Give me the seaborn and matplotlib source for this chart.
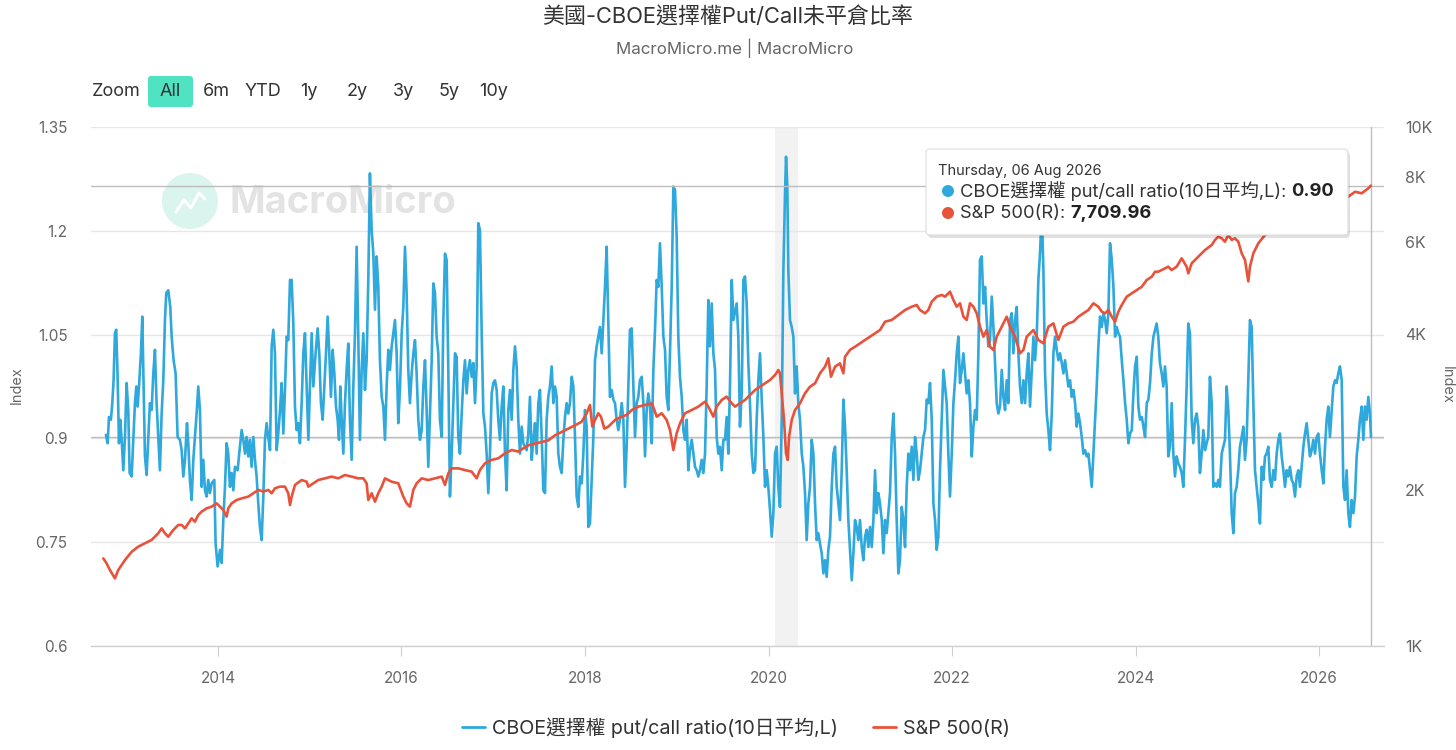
import matplotlib
matplotlib.use("Agg")
import matplotlib.pyplot as plt
import matplotlib.transforms as mtransforms
from matplotlib.patches import FancyBboxPatch, Circle
from matplotlib.lines import Line2D
from matplotlib.ticker import NullLocator
import pandas as pd
import seaborn as sns

# ---------------- data ----------------
title = "美國-CBOE選擇權Put/Call未平倉比率"
subtitle = "MacroMicro.me | MacroMicro"
pcr_name = "CBOE選擇權 put/call ratio(10日平均,L)"
spx_name = "S&P 500(R)"
tooltip_date = "Thursday, 06 Aug 2026"
range_buttons = ["Zoom", "All", "6m", "YTD", "1y", "2y", "3y", "5y", "10y"]

left_ticks = [0.6, 0.75, 0.9, 1.05, 1.2, 1.35]
left_tick_labels = ["0.6", "0.75", "0.9", "1.05", "1.2", "1.35"]
right_ticks = [1000, 2000, 4000, 6000, 8000, 10000]
right_tick_labels = ["1K", "2K", "4K", "6K", "8K", "10K"]
x_ticks = [2014, 2016, 2018, 2020, 2022, 2024, 2026]
x_tick_labels = ["2014", "2016", "2018", "2020", "2022", "2024", "2026"]
recession_start = [2020.07]
recession_end = [2020.32]

pcr_dates = [
    2012.779, 2012.797, 2012.812, 2012.833, 2012.848, 2012.862, 2012.877, 2012.891, 2012.906, 2012.921,
    2012.935, 2012.950, 2012.968, 2012.986, 2013.004, 2013.022, 2013.037, 2013.059, 2013.077, 2013.095,
    2013.110, 2013.124, 2013.139, 2013.160, 2013.175, 2013.189, 2013.204, 2013.222, 2013.240, 2013.258,
    2013.277, 2013.295, 2013.313, 2013.331, 2013.349, 2013.367, 2013.386, 2013.404, 2013.422, 2013.436,
    2013.458, 2013.480, 2013.495, 2013.516, 2013.538, 2013.560, 2013.585, 2013.604, 2013.622, 2013.640,
    2013.662, 2013.676, 2013.694, 2013.713, 2013.731, 2013.749, 2013.767, 2013.785, 2013.803, 2013.822,
    2013.840, 2013.858, 2013.876, 2013.894, 2013.912, 2013.931, 2013.960, 2013.974, 2013.996, 2014.022,
    2014.040, 2014.058, 2014.076, 2014.094, 2014.112, 2014.130, 2014.149, 2014.167, 2014.185, 2014.214,
    2014.239, 2014.258, 2014.276, 2014.294, 2014.312, 2014.330, 2014.348, 2014.366, 2014.385, 2014.403,
    2014.421, 2014.439, 2014.457, 2014.476, 2014.494, 2014.512, 2014.530, 2014.548, 2014.567, 2014.585,
    2014.603, 2014.621, 2014.639, 2014.657, 2014.676, 2014.694, 2014.712, 2014.730, 2014.748, 2014.766,
    2014.785, 2014.803, 2014.821, 2014.839, 2014.857, 2014.875, 2014.893, 2014.912, 2014.930, 2014.948,
    2014.966, 2014.985, 2015.002, 2015.021, 2015.039,
    2015.064, 2015.086, 2015.104, 2015.122, 2015.141, 2015.159, 2015.177, 2015.195, 2015.213, 2015.231,
    2015.250, 2015.268, 2015.286, 2015.304, 2015.319, 2015.333, 2015.348, 2015.366, 2015.384, 2015.402,
    2015.420, 2015.438, 2015.457, 2015.475, 2015.493, 2015.511, 2015.529, 2015.547, 2015.566, 2015.584,
    2015.602, 2015.620, 2015.638, 2015.656, 2015.675, 2015.693, 2015.711, 2015.729, 2015.747, 2015.765,
    2015.784, 2015.802, 2015.820, 2015.838, 2015.856, 2015.874, 2015.893, 2015.911, 2015.929, 2015.947,
    2015.965, 2015.983, 2016.002, 2016.020, 2016.038, 2016.056, 2016.074, 2016.092, 2016.111, 2016.129,
    2016.147, 2016.165, 2016.183, 2016.201, 2016.220, 2016.238, 2016.256, 2016.274, 2016.292, 2016.310,
    2016.329, 2016.347, 2016.365, 2016.383, 2016.401, 2016.419, 2016.438, 2016.456, 2016.474, 2016.492,
    2016.510, 2016.528, 2016.547, 2016.565, 2016.583, 2016.601, 2016.619, 2016.637, 2016.656, 2016.674,
    2016.692, 2016.710, 2016.728, 2016.746, 2016.765, 2016.783, 2016.801, 2016.819, 2016.837, 2016.855,
    2016.874, 2016.892, 2016.910, 2016.928, 2016.946, 2016.964, 2016.983, 2017.001, 2017.019, 2017.037,
    2017.055, 2017.073, 2017.092, 2017.110, 2017.128, 2017.146, 2017.164, 2017.182, 2017.201, 2017.219,
    2017.237, 2017.255, 2017.273, 2017.291, 2017.310, 2017.328,
    2017.364, 2017.382, 2017.400, 2017.419, 2017.437, 2017.455, 2017.473, 2017.491, 2017.509, 2017.528,
    2017.546, 2017.564, 2017.582, 2017.600, 2017.618, 2017.637, 2017.655, 2017.673, 2017.691, 2017.709,
    2017.727, 2017.746, 2017.764, 2017.782, 2017.800, 2017.818, 2017.836, 2017.855, 2017.873, 2017.891,
    2017.909, 2017.927, 2017.945, 2017.964, 2017.982, 2018.000, 2018.018, 2018.036, 2018.054, 2018.073,
    2018.091, 2018.109, 2018.127, 2018.145, 2018.163, 2018.182, 2018.200, 2018.218, 2018.236, 2018.254,
    2018.272, 2018.291, 2018.309, 2018.327, 2018.345, 2018.363, 2018.381, 2018.400, 2018.418, 2018.436,
    2018.454, 2018.472, 2018.490, 2018.509, 2018.527, 2018.545, 2018.563, 2018.581, 2018.599, 2018.618,
    2018.636, 2018.654, 2018.672, 2018.690, 2018.708, 2018.727, 2018.745, 2018.763, 2018.781, 2018.799,
    2018.817, 2018.836, 2018.854, 2018.872, 2018.890, 2018.908, 2018.926, 2018.945, 2018.963, 2018.981,
    2018.999, 2019.017, 2019.035, 2019.054, 2019.072, 2019.090, 2019.108, 2019.126, 2019.144, 2019.163,
    2019.181, 2019.199, 2019.217, 2019.235, 2019.253, 2019.272, 2019.290, 2019.308, 2019.326, 2019.344,
    2019.362, 2019.381, 2019.399, 2019.417, 2019.435, 2019.453, 2019.471, 2019.490, 2019.508, 2019.526,
    2019.544, 2019.562, 2019.580, 2019.599, 2019.617,
    2019.653, 2019.671, 2019.689, 2019.708, 2019.726, 2019.744, 2019.762, 2019.780, 2019.798, 2019.817,
    2019.835, 2019.853, 2019.871, 2019.889, 2019.907, 2019.926, 2019.944, 2019.962, 2019.980, 2019.998,
    2020.016, 2020.035, 2020.053, 2020.071, 2020.089, 2020.107, 2020.125, 2020.144, 2020.162, 2020.180,
    2020.191, 2020.205,
    2020.216, 2020.234, 2020.253, 2020.271, 2020.289, 2020.307, 2020.325, 2020.343, 2020.362, 2020.380,
    2020.398, 2020.416, 2020.434, 2020.452, 2020.471, 2020.489, 2020.507, 2020.525, 2020.543, 2020.561,
    2020.580, 2020.598, 2020.616, 2020.634, 2020.652, 2020.670, 2020.689, 2020.707, 2020.725, 2020.743,
    2020.761, 2020.779, 2020.798, 2020.816, 2020.834, 2020.852, 2020.870, 2020.888, 2020.907, 2020.925,
    2020.943, 2020.961, 2020.979, 2020.997, 2021.016, 2021.034, 2021.052, 2021.070, 2021.088, 2021.106,
    2021.125, 2021.143, 2021.161, 2021.179, 2021.197, 2021.215, 2021.234, 2021.252, 2021.270, 2021.288,
    2021.306, 2021.324, 2021.343, 2021.361, 2021.379, 2021.397, 2021.415, 2021.433, 2021.452, 2021.470,
    2021.488, 2021.506, 2021.524, 2021.542, 2021.561, 2021.579, 2021.597, 2021.615, 2021.633, 2021.651,
    2021.670, 2021.688, 2021.706, 2021.724, 2021.742, 2021.760, 2021.779, 2021.797, 2021.815, 2021.833,
    2021.851, 2021.869, 2021.888, 2021.906,
    2021.942, 2021.960, 2021.978, 2021.997, 2022.015, 2022.033, 2022.051, 2022.069, 2022.087, 2022.106,
    2022.124, 2022.142, 2022.160, 2022.178, 2022.196, 2022.215, 2022.233, 2022.251, 2022.269, 2022.287,
    2022.305, 2022.324, 2022.342, 2022.360, 2022.378, 2022.396, 2022.414, 2022.433, 2022.451, 2022.469,
    2022.487, 2022.505, 2022.523, 2022.542, 2022.560, 2022.578, 2022.596, 2022.614, 2022.632, 2022.651,
    2022.669, 2022.687, 2022.705, 2022.723, 2022.741, 2022.760, 2022.778, 2022.796, 2022.814, 2022.832,
    2022.850, 2022.869, 2022.887, 2022.905, 2022.923, 2022.941, 2022.959, 2022.978, 2022.996, 2023.014,
    2023.032, 2023.050, 2023.068, 2023.087, 2023.105, 2023.123, 2023.141, 2023.159, 2023.177, 2023.196,
    2023.214, 2023.232, 2023.250, 2023.268, 2023.286, 2023.305, 2023.323, 2023.341, 2023.359, 2023.377,
    2023.395, 2023.414, 2023.432, 2023.450, 2023.468, 2023.486, 2023.504, 2023.523, 2023.541, 2023.559,
    2023.577, 2023.595, 2023.613, 2023.632, 2023.650, 2023.668, 2023.686, 2023.704, 2023.722, 2023.741,
    2023.759, 2023.777, 2023.795, 2023.813, 2023.831, 2023.850, 2023.868, 2023.886, 2023.904, 2023.922,
    2023.940, 2023.959, 2023.977, 2023.995, 2024.013, 2024.031, 2024.049, 2024.068, 2024.086, 2024.104,
    2024.122, 2024.140, 2024.158, 2024.177, 2024.195,
    2024.230, 2024.248, 2024.266, 2024.285, 2024.303, 2024.321, 2024.339, 2024.357, 2024.375, 2024.394,
    2024.412, 2024.430, 2024.448, 2024.466, 2024.484, 2024.503, 2024.521, 2024.539, 2024.557, 2024.575,
    2024.593, 2024.612, 2024.630, 2024.648, 2024.666, 2024.684, 2024.702, 2024.721, 2024.739, 2024.757,
    2024.775, 2024.793, 2024.811, 2024.830, 2024.848, 2024.866, 2024.884, 2024.902, 2024.920, 2024.939,
    2024.957, 2024.975, 2024.993, 2025.011, 2025.029, 2025.048, 2025.066, 2025.084, 2025.102, 2025.120,
    2025.138, 2025.157, 2025.175, 2025.193, 2025.211, 2025.229, 2025.247, 2025.266, 2025.284, 2025.302,
    2025.320, 2025.338, 2025.356, 2025.375, 2025.393, 2025.411, 2025.429, 2025.447, 2025.465, 2025.484,
    2025.502, 2025.520, 2025.538, 2025.556, 2025.574, 2025.593, 2025.611, 2025.629, 2025.647, 2025.665,
    2025.683, 2025.702, 2025.720, 2025.738, 2025.756, 2025.774, 2025.792, 2025.811, 2025.829, 2025.847,
    2025.865, 2025.883, 2025.901, 2025.920, 2025.938, 2025.956, 2025.974, 2025.992, 2026.010, 2026.029,
    2026.047, 2026.065, 2026.083, 2026.101, 2026.119, 2026.138, 2026.156, 2026.174, 2026.192, 2026.210,
    2026.228, 2026.247, 2026.265, 2026.283, 2026.301, 2026.319, 2026.337, 2026.355, 2026.374, 2026.392,
    2026.410, 2026.428, 2026.446, 2026.465, 2026.483, 2026.501, 2026.519, 2026.537, 2026.555, 2026.566,
]

pcr_values = [
    0.905, 0.893, 0.931, 0.927, 0.951, 0.984, 1.052, 1.057, 0.989, 0.893,
    0.927, 0.898, 0.854, 0.902, 0.980, 0.941, 0.850, 0.845, 0.898, 0.951,
    0.975, 0.946, 0.975, 1.023, 1.076, 0.975, 0.874, 0.847, 0.898, 0.951,
    0.941, 0.994, 1.028, 0.951, 0.902, 0.854, 0.936, 0.984, 1.071, 1.110,
    1.114, 1.090, 1.047, 1.013, 0.994, 0.902, 0.898, 0.883, 0.845, 0.869,
    0.922, 0.893, 0.840, 0.811, 0.869, 0.902, 0.936, 0.975, 0.941, 0.830,
    0.869, 0.825, 0.816, 0.840, 0.821, 0.835, 0.840, 0.748, 0.715, 0.739,
    0.720, 0.782, 0.830, 0.893, 0.878, 0.830, 0.850, 0.825, 0.859, 0.854,
    0.888, 0.912, 0.898, 0.878, 0.902, 0.874, 0.898, 0.859, 0.902, 0.869,
    0.845, 0.806, 0.772, 0.753, 0.816, 0.898, 0.922, 0.902, 0.883, 1.033,
    1.057, 1.023, 0.883, 0.907, 0.941, 0.980, 0.907, 0.970, 1.047, 1.042,
    1.129, 1.129, 1.066, 0.946, 0.912, 0.922, 0.893, 0.951, 1.023, 1.052,
    0.975, 0.898, 0.975, 1.052, 0.975,
    1.023, 1.059, 1.023, 0.951, 0.927, 0.975, 1.023, 1.076, 1.023, 0.960,
    1.028, 0.994, 0.946, 0.927, 0.898, 0.975, 0.927, 0.878, 0.951, 0.999,
    1.037, 0.927, 0.869, 0.975, 1.052, 1.177, 1.047, 0.898, 0.999, 1.052,
    0.970, 1.013, 1.129, 1.283, 1.201, 1.167, 1.086, 1.163, 1.119, 1.013,
    0.960, 0.946, 0.898, 0.975, 1.028, 0.999, 1.033, 1.052, 1.071, 1.023,
    0.922, 0.970, 1.052, 1.090, 1.177, 1.110, 0.999, 0.951, 0.994, 1.023,
    1.042, 0.994, 0.927, 0.898, 0.912, 0.975, 1.013, 0.941, 0.859, 0.936,
    1.013, 1.124, 1.110, 1.047, 1.023, 0.927, 0.902, 1.071, 1.167, 1.158,
    0.999, 0.816, 0.878, 0.951, 1.023, 1.018, 0.902, 0.878, 0.936, 0.984,
    1.013, 0.965, 0.999, 1.013, 0.989, 1.009, 0.951, 1.004, 1.211, 1.201,
    1.052, 0.936, 0.917, 0.878, 0.821, 0.878, 0.965, 0.980, 0.984, 0.970,
    0.927, 0.898, 0.946, 0.975, 0.878, 0.825, 0.941, 0.970, 0.927, 0.999,
    1.033, 1.004, 0.927, 0.878, 0.917, 0.893,
    0.883, 0.907, 0.960, 0.869, 0.898, 0.922, 0.878, 0.951, 0.970, 0.902,
    0.825, 0.821, 0.927, 0.960, 0.975, 1.004, 0.951, 0.975, 0.960, 0.878,
    0.859, 0.850, 0.898, 0.931, 0.951, 0.936, 0.951, 0.989, 0.975, 0.902,
    0.816, 0.801, 0.845, 0.835, 0.878, 0.941, 0.917, 0.772, 0.777, 0.840,
    0.902, 1.013, 1.033, 1.047, 1.061, 1.023, 1.071, 1.119, 1.177, 1.071,
    0.960, 0.970, 0.956, 0.951, 0.927, 0.912, 0.927, 0.951, 0.927, 0.830,
    0.888, 0.975, 1.057, 1.059, 0.975, 0.902, 0.951, 0.960, 0.984, 0.989,
    0.951, 0.874, 0.941, 0.965, 0.946, 0.893, 0.999, 1.057, 1.129, 1.119,
    1.182, 1.119, 1.047, 1.028, 0.960, 0.941, 1.023, 1.119, 1.264, 1.259,
    1.192, 1.047, 0.989, 0.960, 0.912, 0.898, 0.927, 0.854, 0.883, 0.898,
    0.878, 0.859, 0.854, 0.845, 0.854, 0.869, 0.850, 0.878, 0.975, 1.100,
    1.033, 1.095, 1.023, 0.999, 0.902, 0.878, 0.888, 0.854, 0.898, 0.898,
    0.931, 0.878, 0.975, 1.129, 1.071,
    1.095, 1.047, 0.917, 0.965, 1.129, 1.134, 1.095, 1.009, 0.951, 0.878,
    0.850, 0.854, 0.927, 0.984, 1.023, 0.956, 0.902, 0.830, 0.854, 0.830,
    0.797, 0.758, 0.792, 0.878, 0.888, 0.830, 0.801, 0.927, 1.143, 1.254,
    1.307, 1.264,
    1.143, 1.071, 1.061, 1.047, 0.965, 1.004, 0.951, 0.927, 0.878, 0.859,
    0.821, 0.753, 0.806, 0.830, 0.898, 0.878, 0.806, 0.753, 0.763, 0.748,
    0.734, 0.705, 0.724, 0.700, 0.739, 0.758, 0.830, 0.878, 0.888, 0.830,
    0.806, 0.782, 0.854, 0.956, 0.917, 0.854, 0.782, 0.739, 0.695, 0.734,
    0.782, 0.772, 0.753, 0.782, 0.743, 0.724, 0.758, 0.768, 0.743, 0.772,
    0.743, 0.782, 0.854, 0.792, 0.821, 0.806, 0.782, 0.734, 0.782, 0.763,
    0.792, 0.821, 0.902, 0.936, 0.878, 0.782, 0.705, 0.724, 0.801, 0.782,
    0.743, 0.830, 0.878, 0.854, 0.888, 0.840, 0.902, 0.878, 0.840, 0.854,
    0.878, 0.902, 0.912, 0.956, 0.951, 0.980, 0.927, 0.806, 0.782, 0.739,
    0.758, 0.854, 0.927, 0.999,
    0.951, 0.878, 0.816, 0.878, 0.951, 0.984, 1.023, 1.047, 0.980, 0.999,
    1.023, 0.994, 0.965, 0.984, 0.951, 0.874, 0.917, 0.941, 0.927, 1.023,
    1.158, 1.163, 1.095, 1.119, 1.071, 1.033, 1.042, 1.105, 1.061, 1.009,
    0.951, 0.936, 0.946, 0.999, 0.960, 0.941, 0.984, 0.951, 1.071, 1.081,
    1.023, 1.071, 1.090, 1.023, 0.975, 0.951, 0.984, 0.951, 0.994, 1.023,
    0.946, 0.999, 1.047, 1.013, 1.047, 1.129, 1.167, 1.230, 1.143, 0.994,
    0.936, 0.912, 0.883, 0.936, 1.023, 1.047, 1.028, 1.013, 1.023, 1.009,
    0.994, 1.013, 0.994, 0.975, 0.984, 0.960, 0.970, 0.951, 0.917, 0.936,
    0.922, 0.902, 0.878, 0.883, 0.874, 0.878, 0.854, 0.830, 0.878, 0.927,
    0.975, 1.033, 1.076, 1.061, 1.081, 1.071, 1.052, 1.081, 1.182, 1.158,
    1.119, 1.047, 1.061, 1.052, 1.047, 1.013, 0.984, 0.951, 0.927, 0.893,
    0.907, 0.912, 0.965, 1.004, 1.018, 0.946, 0.927, 0.931, 0.917, 0.902,
    0.951, 0.956, 0.980, 1.023, 1.047,
    1.066, 1.047, 1.009, 0.994, 0.975, 1.004, 0.975, 0.874, 0.888, 0.951,
    0.878, 0.845, 0.874, 0.864, 0.859, 0.850, 0.830, 0.898, 0.975, 1.066,
    1.052, 0.927, 0.893, 0.927, 0.936, 0.917, 0.850, 0.878, 0.912, 0.883,
    0.893, 0.902, 0.989, 0.951, 0.830, 0.835, 0.830, 0.840, 0.830, 0.878,
    0.888, 0.898, 0.975, 0.941, 0.878, 0.792, 0.763, 0.821, 0.830, 0.854,
    0.888, 0.902, 0.917, 0.869, 0.898, 0.984, 1.071, 1.061, 0.951, 0.854,
    0.830, 0.806, 0.777, 0.859, 0.840, 0.874, 0.878, 0.888, 0.840, 0.830,
    0.854, 0.840, 0.878, 0.898, 0.907, 0.874, 0.854, 0.830, 0.854, 0.845,
    0.859, 0.840, 0.835, 0.816, 0.845, 0.854, 0.830, 0.859, 0.888, 0.907,
    0.922, 0.898, 0.874, 0.883, 0.898, 0.878, 0.902, 0.907, 0.878, 0.854,
    0.835, 0.888, 0.927, 0.946, 0.902, 0.941, 0.975, 0.984, 0.980, 0.994,
    1.004, 0.984, 0.830, 0.811, 0.854, 0.792, 0.772, 0.811, 0.792, 0.816,
    0.874, 0.898, 0.927, 0.946, 0.898, 0.946, 0.927, 0.960, 0.936, 0.902,
]

spx_dates = [
    2012.750, 2012.786, 2012.822, 2012.877, 2012.913, 2012.986, 2013.059, 2013.131, 2013.204, 2013.277,
    2013.349, 2013.386, 2013.422, 2013.458, 2013.513, 2013.567, 2013.604, 2013.640, 2013.676, 2013.713,
    2013.749, 2013.785, 2013.822, 2013.876, 2013.931, 2013.985, 2014.022, 2014.058, 2014.094, 2014.112,
    2014.149, 2014.203, 2014.258, 2014.330, 2014.385, 2014.439, 2014.494, 2014.548, 2014.585, 2014.621,
    2014.676, 2014.730, 2014.766, 2014.785, 2014.803, 2014.839, 2014.912, 2014.966, 2014.985, 2015.039,
    2015.093, 2015.166, 2015.239, 2015.311, 2015.384, 2015.457, 2015.529, 2015.584, 2015.620, 2015.638,
    2015.675, 2015.711, 2015.747, 2015.784, 2015.820, 2015.856, 2015.893, 2015.965, 2016.020, 2016.056,
    2016.092, 2016.129, 2016.165, 2016.220, 2016.292, 2016.365, 2016.438, 2016.474, 2016.510, 2016.547,
    2016.619, 2016.692, 2016.765, 2016.819, 2016.855, 2016.910, 2016.983, 2017.055, 2017.128, 2017.201,
    2017.273, 2017.328,
    2017.382, 2017.455, 2017.528, 2017.600, 2017.673, 2017.746, 2017.818, 2017.891, 2017.964, 2018.018,
    2018.054, 2018.080, 2018.109, 2018.145, 2018.174, 2018.211, 2018.254, 2018.291, 2018.327, 2018.363,
    2018.400, 2018.454, 2018.509, 2018.581, 2018.654, 2018.727, 2018.756, 2018.781, 2018.836, 2018.890,
    2018.926, 2018.963, 2018.999, 2019.035, 2019.090, 2019.163, 2019.235, 2019.308, 2019.344, 2019.399,
    2019.435, 2019.490, 2019.544, 2019.599, 2019.635,
    2019.689, 2019.744, 2019.798, 2019.853, 2019.907, 2019.962, 2020.016, 2020.071, 2020.107, 2020.125,
    2020.144, 2020.169, 2020.191, 2020.209, 2020.224, 2020.253, 2020.289, 2020.343, 2020.398, 2020.452,
    2020.507, 2020.561, 2020.616, 2020.652, 2020.681, 2020.725, 2020.779, 2020.816, 2020.834, 2020.888,
    2020.943, 2020.997, 2021.052, 2021.106, 2021.161, 2021.215, 2021.270, 2021.343, 2021.415, 2021.488,
    2021.561, 2021.615, 2021.651, 2021.706, 2021.742, 2021.779, 2021.833, 2021.888, 2021.924,
    2021.978, 2022.015, 2022.051, 2022.087, 2022.124, 2022.160, 2022.196, 2022.233, 2022.269, 2022.305,
    2022.342, 2022.378, 2022.414, 2022.451, 2022.487, 2022.542, 2022.596, 2022.632, 2022.687, 2022.741,
    2022.778, 2022.814, 2022.850, 2022.887, 2022.941, 2022.996, 2023.050, 2023.105, 2023.159, 2023.214,
    2023.268, 2023.323, 2023.377, 2023.432, 2023.486, 2023.541, 2023.595, 2023.632, 2023.668, 2023.704,
    2023.741, 2023.777, 2023.813, 2023.850, 2023.904, 2023.959, 2024.013, 2024.068, 2024.122, 2024.177,
    2024.213,
    2024.248, 2024.321, 2024.357, 2024.394, 2024.448, 2024.503, 2024.557, 2024.575, 2024.612, 2024.684,
    2024.757, 2024.830, 2024.866, 2024.902, 2024.939, 2024.975, 2025.011, 2025.048, 2025.084, 2025.120,
    2025.157, 2025.193, 2025.229, 2025.247, 2025.284, 2025.338, 2025.411, 2025.500, 2025.600, 2025.700,
    2025.800, 2025.900, 2026.000, 2026.100, 2026.200, 2026.319, 2026.392, 2026.465, 2026.537, 2026.566,
]

spx_values = [
    1475, 1443, 1401, 1350, 1401, 1464, 1519, 1554, 1577, 1601,
    1649, 1685, 1649, 1624, 1673, 1711, 1711, 1685, 1723, 1762,
    1736, 1788, 1815, 1842, 1856, 1883, 1856, 1828, 1775, 1842,
    1883, 1911, 1925, 1940, 1969, 1998, 1984, 1998, 1969, 2013,
    2028, 2028, 1969, 1869, 1940, 2043, 2088, 2073, 2028, 2058,
    2088, 2104, 2120, 2104, 2135, 2120, 2104, 2104, 2058, 1911,
    1969, 1897, 1969, 2028, 2104, 2088, 2073, 2058, 1940, 1883,
    1856, 1998, 2058, 2104, 2088, 2104, 2120, 2043, 2151, 2199,
    2199, 2183, 2167, 2104, 2183, 2249, 2283, 2300, 2351, 2386,
    2369, 2404,
    2436, 2454, 2472, 2490, 2547, 2585, 2623, 2662, 2705, 2808,
    2913, 2646, 2726, 2808, 2766, 2623, 2646, 2685, 2726, 2746,
    2766, 2787, 2849, 2892, 2913, 2935, 2849, 2766, 2808, 2726,
    2608, 2386, 2569, 2685, 2808, 2849, 2892, 2957, 2892, 2766,
    2892, 2979, 3023, 2935, 2892,
    2935, 2979, 3045, 3113, 3159, 3207, 3254, 3328, 3402, 3353,
    3069, 2726, 2351, 2283, 2531, 2726, 2849, 2935, 3069, 3159,
    3207, 3353, 3453, 3584, 3303, 3453, 3504, 3353, 3610, 3719,
    3773, 3830, 3887, 3945, 4004, 4063, 4216, 4248, 4343, 4440,
    4506, 4540, 4440, 4375, 4440, 4607, 4711, 4746, 4711,
    4816, 4642, 4506, 4574, 4310, 4248, 4574, 4506, 4375, 4123,
    3945, 4063, 3773, 3719, 3945, 4123, 4310, 4123, 3945, 3664,
    3719, 3945, 4004, 4063, 3887, 3830, 4123, 4184, 3887, 4123,
    4184, 4216, 4310, 4375, 4440, 4574, 4506, 4408, 4375, 4440,
    4310, 4216, 4408, 4540, 4711, 4781, 4852, 4923, 5072, 5147,
    5262,
    5262, 5341, 5381, 5302, 5381, 5585, 5381, 5224, 5462, 5625,
    5794, 5924, 6058, 6147, 6102, 6012, 6193, 6058, 6102, 6012,
    5710, 5543, 5040, 5381, 5710, 5969, 6193, 6350, 6450, 6600,
    6700, 6800, 6900, 7000, 7150, 7339, 7504, 7451, 7619, 7709.96,
]

assert len(pcr_dates) == len(pcr_values), (len(pcr_dates), len(pcr_values))
assert len(spx_dates) == len(spx_values), (len(spx_dates), len(spx_values))

# ---------------- style ----------------
BLUE = "#2fa8dc"
RED = "#e8523b"
W, H = 1456, 750

sns.set_theme(style="white")
plt.rcParams["font.family"] = ["Inter", "Noto Sans CJK TC", "DejaVu Sans"]

fig = plt.figure(figsize=(W / 100, H / 100), dpi=100)
PX = mtransforms.Affine2D().scale(1.0 / W, 1.0 / H) + fig.transFigure


def Y(y):
    return H - y


L, R, T, B = 91, 1384, 127, 646
ax = fig.add_axes([L / W, 1 - B / H, (R - L) / W, (B - T) / H])
ax.patch.set_visible(False)
ax2 = ax.twinx()
ax2.patch.set_visible(False)

for s, e in zip(recession_start, recession_end):
    ax.axvspan(s, e, color="#f2f2f2", lw=0, zorder=0)

pcr = pd.DataFrame({"date": pcr_dates, "ratio": pcr_values})
spx = pd.DataFrame({"date": spx_dates, "index": spx_values})

sns.lineplot(data=pcr, x="date", y="ratio", ax=ax, color=BLUE, linewidth=1.9,
             estimator=None, sort=False, legend=False, zorder=3)
ax2.set_yscale("log")
sns.lineplot(data=spx, x="date", y="index", ax=ax2, color=RED, linewidth=1.9,
             estimator=None, sort=False, legend=False, zorder=3)

# crosshair of the hovered (last) point
ax.axhline(pcr_values[-1], color="#bdbdbd", lw=1, zorder=1)
ax2.axhline(spx_values[-1], color="#bdbdbd", lw=1, zorder=1)
ax.axvline(pcr_dates[-1], color="#bdbdbd", lw=1, zorder=1)

ax.set_xlim(2012.616, 2026.708)
ax.set_ylim(left_ticks[0], left_ticks[-1])
ax.set_yticks(left_ticks)
ax.set_yticklabels(left_tick_labels)
ax.set_xticks(x_ticks)
ax.set_xticklabels(x_tick_labels)
ax2.set_ylim(right_ticks[0], right_ticks[-1])
ax2.set_yticks(right_ticks)
ax2.set_yticklabels(right_tick_labels)
ax2.yaxis.set_minor_locator(NullLocator())

ax.grid(axis="y", color="#e6e6e6", lw=1)
ax.grid(axis="x", visible=False)
ax2.grid(False)
ax.set_axisbelow(True)

for a in (ax, ax2):
    for sp in a.spines.values():
        sp.set_visible(False)
    a.set_xlabel("")
    a.set_ylabel("")
ax.spines["bottom"].set_visible(True)
ax.spines["bottom"].set_color("#cfcfcf")
ax.spines["bottom"].set_linewidth(1)

ax.tick_params(axis="x", bottom=True, length=7, width=0.8, color="#cfcfcf",
               labelsize=11, labelcolor="#666666", pad=11, direction="out")
ax.tick_params(axis="y", left=False, length=0, labelsize=11, labelcolor="#666666", pad=17)
ax2.tick_params(axis="y", right=False, length=0, labelsize=11.5, labelcolor="#666666", pad=15)

# axis titles
fig.text(17, Y(385), "Index", transform=PX, rotation=90, ha="center", va="center",
         fontsize=10.5, color="#666666")
fig.text(1447, Y(385), "Index", transform=PX, rotation=-90, ha="center", va="center",
         fontsize=10.5, color="#666666")

# watermark
fig.add_artist(Circle((190, Y(201)), 28, transform=PX, fc="#d9f5ee", ec="none", zorder=-1))
fig.add_artist(Line2D([176, 184, 191, 199, 205], [Y(212), Y(200), Y(208), Y(193), Y(199)],
                      transform=PX, color="white", lw=2.2, zorder=-1))
fig.text(229, Y(203), "MacroMicro", transform=PX, fontsize=27.5, weight="bold",
         color="#e3e3e3", va="center", ha="left", zorder=-1)

# title
fig.text(728, Y(17), title, transform=PX, ha="center", va="center", fontsize=15.8, color="#333333")
fig.text(735, Y(48), subtitle, transform=PX, ha="center", va="center", fontsize=12.2, color="#666666")

# range selector
btn_x = [116, 170, 216, 263, 309, 357, 403, 449, 494]
fig.add_artist(FancyBboxPatch((148, Y(107)), 45, 31, boxstyle="round,pad=0,rounding_size=3",
                              transform=PX, fc="#50e3c2", ec="none", zorder=1))
for lbl, bx in zip(range_buttons, btn_x):
    fig.text(bx, Y(92), lbl, transform=PX, ha="center", va="center", fontsize=13,
             color="#333333", zorder=2)

# legend
handles = [Line2D([0], [0], color=BLUE, lw=2), Line2D([0], [0], color=RED, lw=2)]
fig.legend(handles, [pcr_name, spx_name], loc="center", bbox_to_anchor=(736 / W, 1 - 728 / H),
           ncol=2, frameon=False, fontsize=14.2, handlelength=1.15, handletextpad=0.35,
           columnspacing=1.8, labelcolor="#333333")

# tooltip
fig.add_artist(FancyBboxPatch((928, Y(238)), 422, 86, boxstyle="round,pad=0,rounding_size=4",
                              transform=PX, fc="black", ec="none", alpha=0.12, zorder=9))
fig.add_artist(FancyBboxPatch((926, Y(235)), 422, 86, boxstyle="round,pad=0,rounding_size=4",
                              transform=PX, fc="white", ec="#dddddd", lw=0.8, zorder=10))
fig.text(938, Y(171), tooltip_date, transform=PX, ha="left", va="center", fontsize=10.5,
         color="#333333", zorder=11)
fig.add_artist(Circle((948, Y(191)), 6, transform=PX, fc=BLUE, ec="none", zorder=11))
fig.add_artist(Circle((948, Y(213)), 6, transform=PX, fc=RED, ec="none", zorder=11))
t1 = fig.text(960, Y(191), pcr_name + ":", transform=PX, ha="left", va="center",
              fontsize=13.2, color="#333333", zorder=11)
t2 = fig.text(960, Y(213), spx_name + ":", transform=PX, ha="left", va="center",
              fontsize=13.2, color="#333333", zorder=11)
fig.canvas.draw()
r = fig.canvas.get_renderer()
b1 = t1.get_window_extent(r)
b2 = t2.get_window_extent(r)
fig.text(b1.x1 + 5, Y(191), f"{pcr_values[-1]:.2f}", transform=PX, ha="left", va="center",
         fontsize=13.2, weight="bold", color="#222222", zorder=11)
fig.text(b2.x1 + 5, Y(213), f"{spx_values[-1]:,.2f}", transform=PX, ha="left", va="center",
         fontsize=13.2, weight="bold", color="#222222", zorder=11)

fig.savefig("out.png", dpi=100)
